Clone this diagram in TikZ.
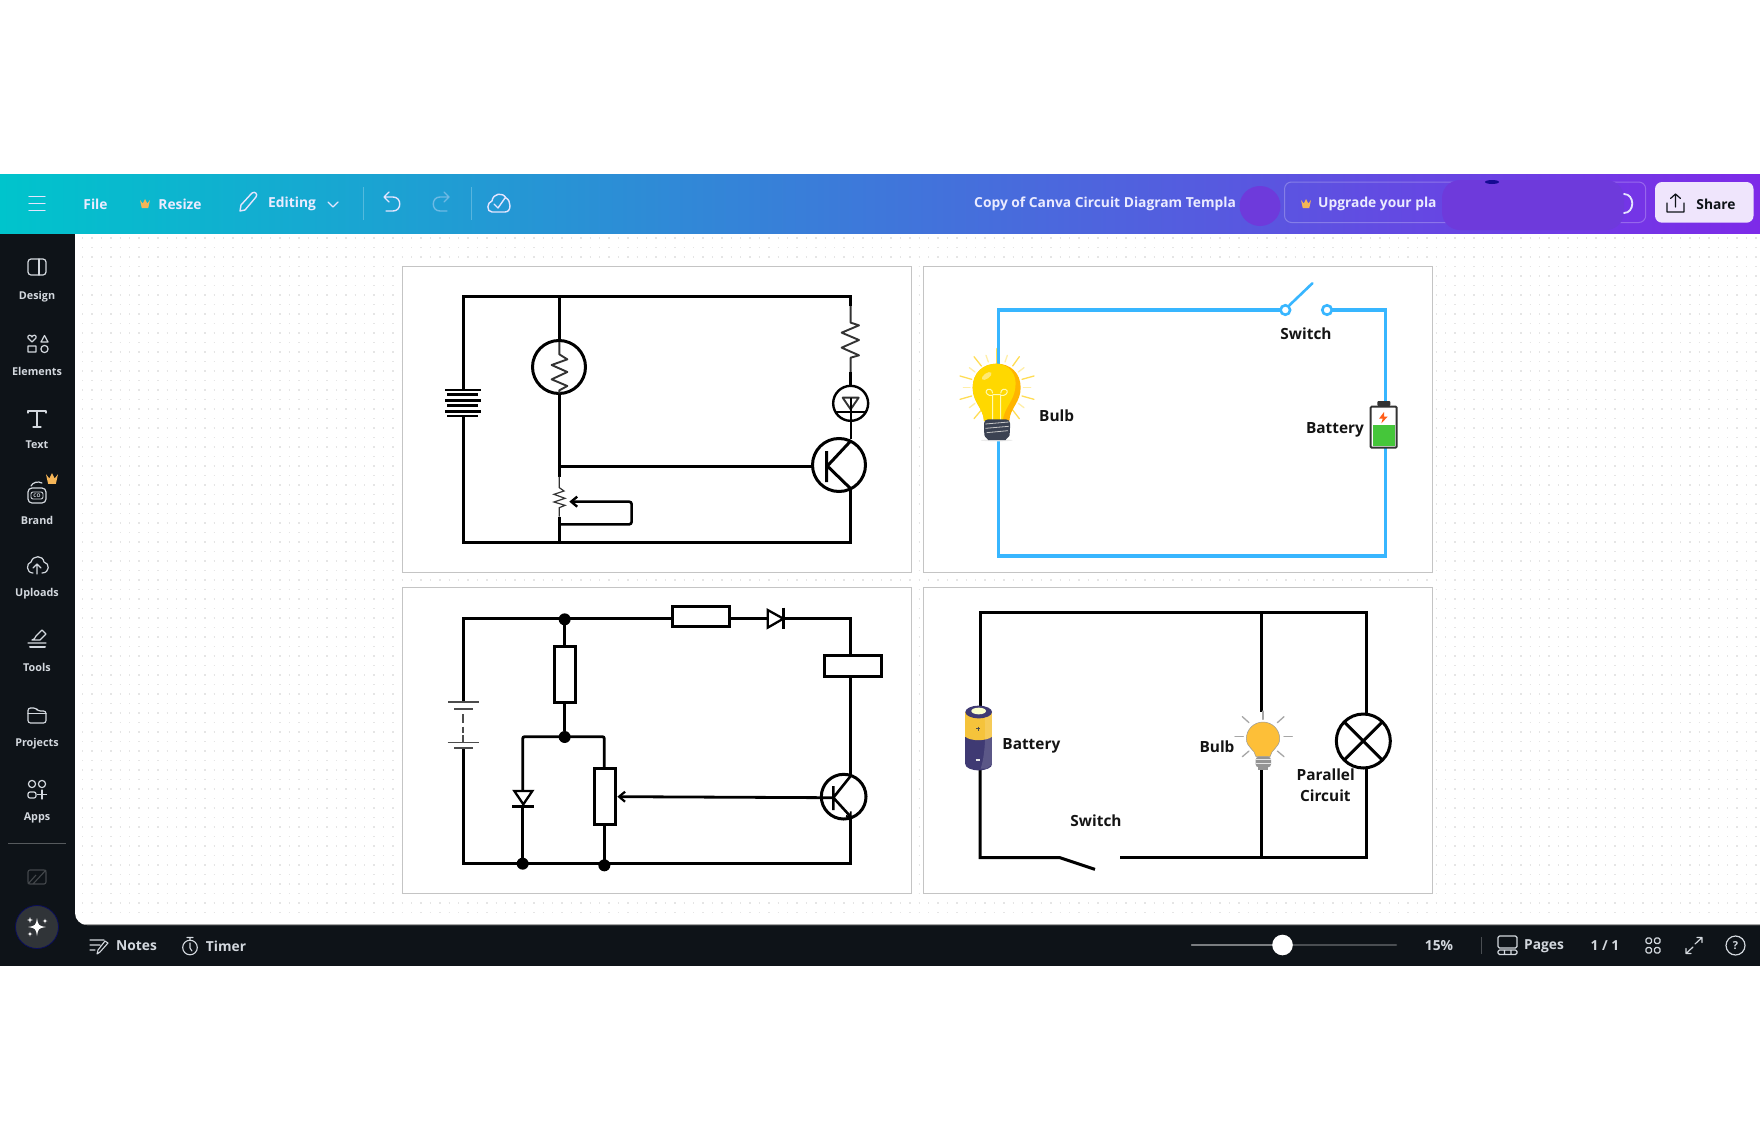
\documentclass[tikz,border=0pt]{standalone}
\usepackage{fontspec}
\setmainfont{Open Sans}
\usetikzlibrary{arrows.meta}
\definecolor{barL}{RGB}{0,196,204}
\definecolor{barR}{RGB}{125,42,232}
\definecolor{uidark}{HTML}{0E1318}
\definecolor{uitxt}{HTML}{D3D8DE}
\definecolor{panelline}{HTML}{C4C4C4}
\definecolor{cblue}{HTML}{38B6FF}
\definecolor{blob}{HTML}{6E3ADB}
\definecolor{crownc}{HTML}{F5B557}
\definecolor{bulbY}{HTML}{FFD800}
\definecolor{bulbO}{HTML}{FFB400}
\definecolor{rayY}{HTML}{FFDD55}
\definecolor{rayL}{HTML}{FFEFA8}
\definecolor{capdark}{HTML}{3B4252}
\definecolor{battG}{HTML}{45C63A}
\definecolor{cellY}{HTML}{F5C33B}
\definecolor{cellN}{HTML}{3F3A73}
\definecolor{bulb4}{HTML}{FDBF38}
\tikzset{
 z/.style 2 args={shift={(#1,#2)},x=.33333pt,y=-.33333pt},
 panel/.style={draw=panelline,line width=1pt,fill=white},
 wire/.style={line width=3pt,draw=black,line join=miter},
 wireb/.style={line width=2.8pt,draw=black,line join=miter},
 thinw/.style={line width=1.9pt,draw=black!80,line join=round},
 bwire/.style={line width=3.2pt,draw=cblue},
 comp/.style={draw=black,line width=3pt,fill=white,inner sep=0pt,outer sep=0pt},
 ring/.style={comp,circle},
 jdot/.style={circle,fill=black,inner sep=0pt,outer sep=0pt,minimum size=12pt},
 lab/.style={font=\fontsize{15.4}{19}\selectfont\bfseries,text=black!92,inner sep=0pt},
 side/.style={font=\fontsize{10.8}{13}\selectfont\bfseries,text=uitxt,inner sep=0pt},
 top/.style={font=\fontsize{13.8}{17}\selectfont\bfseries,text=white!92!blue,inner sep=0pt},
 bot/.style={font=\fontsize{13.8}{17}\selectfont\bfseries,text=uitxt,inner sep=0pt},
 ico/.style={line width=1.2pt,draw=uitxt,line join=round,line cap=round},
 tico/.style={line width=1.4pt,draw=white!90!blue,line join=round,line cap=round},
 ray/.style={line width=1.3pt,draw=#1,line cap=round},
}
\newcommand{\crownic}[3]{\fill[crownc] (#1-#3,#2-#3*.8) -- (#1-#3*.45,#2-#3*.1) -- (#1,#2-#3) -- (#1+#3*.45,#2-#3*.1) -- (#1+#3,#2-#3*.8) -- (#1+#3*.65,#2+#3*.8) -- (#1-#3*.65,#2+#3*.8) -- cycle;}
\newcommand{\sparkic}[3]{\fill[white] (#1,#2-#3) .. controls (#1+#3*.15,#2-#3*.15) .. (#1+#3,#2) .. controls (#1+#3*.15,#2+#3*.15) .. (#1,#2+#3) .. controls (#1-#3*.15,#2+#3*.15) .. (#1-#3,#2) .. controls (#1-#3*.15,#2-#3*.15) .. cycle;}
\begin{document}
\begin{tikzpicture}[x=1pt,y=-1pt]
\useasboundingbox (0,0) rectangle (1760,1140);
\fill[white] (0,0) rectangle (1760,1140);
% --- application frame
\fill[uidark] (0,233) rectangle (1760,966);
\fill[white] (1760,233) -- (75,233) [rounded corners=12pt] -- (75,925) [sharp corners] -- (1760,925) -- cycle;
\draw[black!35,line width=.8pt] (84,924.8) -- (1760,924.8);
\foreach \r in {0,...,71}{
 \draw[black!10,line width=1.3pt,dash pattern=on 1.3pt off 8.1pt] (82,238+9.5*\r) -- (1760,238+9.5*\r);
}
\shade[left color=barL,right color=barR] (0,174) rectangle (1760,233);
% --- top bar
\draw[tico] (29,196.5) -- (45,196.5) (29,203.5) -- (45,203.5) (29,210.5) -- (45,210.5);
\node[top] (tfile) at (95.5,204) {File};
\crownic{145}{204}{5}
\node[top] (tresize) at (180,204) {Resize};
\draw[tico] (240,211) -- (241,205) -- (252,193) .. controls (255,191) and (258,194) .. (256,197) -- (245,210) -- cycle;
\node[top] (tedit) at (292,204) {Editing};
\draw[tico] (328,202) -- (333,207) -- (338,202);
\draw[white,opacity=.25,line width=.8pt] (363,187) -- (363,220) (471,187) -- (471,220);
\draw[tico] (385,197) -- (393,197) .. controls (402,197) and (402,211) .. (393,211) -- (386,211) (389,192) -- (384,197) -- (389,202);
\draw[tico,opacity=.4] (448,197) -- (440,197) .. controls (431,197) and (431,211) .. (440,211) -- (447,211) (444,192) -- (449,197) -- (444,202);
\draw[tico] (492,212) .. controls (486,212) and (487,202) .. (492,201) .. controls (493,193) and (503,192) .. (506,198) .. controls (511,200) and (512,212) .. (505,212) -- cycle (494,204) -- (498,208) -- (505,198);
\node[top,anchor=west] (ttitle) at (974,204) {Copy of Canva Circuit Diagram Templa};
\fill[blob] (1260,206) ellipse [x radius=20.5,y radius=20];
\draw[white,opacity=.25,line width=1pt,rounded corners=7pt] (1284.5,182) rectangle (1645.7,222.5);
\crownic{1306}{204}{5}
\node[top,anchor=west] (tupg) at (1318,204) {Upgrade your pla};
\fill[blob,rounded corners=18pt] (1442,180) rectangle (1624,230);
\fill[blue!50!black,opacity=.8] (1492,182) ellipse [x radius=7,y radius=2];
\draw[tico,line width=1.8pt] (1624,194) .. controls (1635,194) and (1635,213) .. (1624,213);
\fill[white!88!barR,rounded corners=7pt] (1655,182) rectangle (1753.5,222.7);
\draw[line width=1.2pt,draw=uidark,line join=round,line cap=round] (1667,203) -- (1667,212) -- (1684,212) -- (1684,203) (1675.5,207) -- (1675.5,194) (1670.5,198.5) -- (1675.5,194) -- (1680.5,198.5);
\node[top,text=uidark] (tshare) at (1716,204) {Share};
% --- side bar
\draw[ico,rounded corners=3pt] (28,259) rectangle (46,275);
\draw[ico] (39,259) -- (39,275);
\node[side] (sdesign) at (37,297) {Design};
\draw[ico] (32,342) -- (28,338) .. controls (27,335) and (31,334) .. (32,337) .. controls (33,334) and (37,335) .. (36,338) -- cycle (41,342) -- (44.5,335.5) -- (48,342) -- cycle (28,346) rectangle (36,352);
\draw[ico] (44.5,349) circle [radius=3.6];
\node[side] (selem) at (37,371) {Elements};
\draw[ico] (28,413) -- (28,411) -- (46,411) -- (46,413) (37,411) -- (37,427) (33,427) -- (41,427);
\node[side] (stext) at (37,445) {Text};
\draw[ico,rounded corners=4pt] (28,488) rectangle (46,503);
\draw[ico,rounded corners=2pt,line width=.9pt] (31,492) rectangle (43,499);
\draw[ico] (31,486) .. controls (33,482) and (38,481) .. (42,483);
\node[font=\fontsize{5}{6}\selectfont\bfseries,text=uitxt,inner sep=0pt] (sco) at (37,495.5) {CO};
\crownic{52}{479}{6}
\node[side] (sbrand) at (37,520) {Brand};
\draw[ico] (33,573) .. controls (26,573) and (26,563) .. (31,562) .. controls (33,555) and (43,555) .. (44,562) .. controls (50,563) and (50,573) .. (42,573) (37,574) -- (37,564) (33,568) -- (37,564) -- (41,568);
\node[side] (supl) at (37,593.5) {Uploads};
\draw[ico] (28,643) -- (46,643) (32,640) .. controls (34,640) and (35,638) .. (36,636) -- (42,630) -- (46,634) -- (40,640) -- (32,640);
\draw[ico,line width=2pt] (30,646.5) -- (45,646.5);
\node[side] (stools) at (37,667.5) {Tools};
\draw[ico,rounded corners=2.5pt] (28,708) -- (36,708) -- (38,711) -- (46,711) -- (46,723) -- (28,723) -- cycle;
\draw[ico] (28,713.5) -- (46,713.5);
\node[side] (sproj) at (37,744) {Projects};
\draw[ico] (32,784) circle [radius=3.6] (42,784) circle [radius=3.6];
\draw[ico,rounded corners=2pt] (28,792) rectangle (36,798);
\draw[ico] (42,790) -- (42,799) (37.5,794.5) -- (46.5,794.5);
\node[side] (sapps) at (37,818) {Apps};
\draw[white!30!uidark,line width=.8pt] (8,843) -- (66,843);
\draw[line width=1.1pt,draw=white!22!uidark,rounded corners=2pt] (28,870) rectangle (46,884) (28,884) -- (36,875) (46,870) -- (33,884);
\fill[white!14!uidark,draw=blue!30!uidark,line width=.8pt] (37,927) circle [radius=21.5];
\sparkic{37}{927}{9}
\sparkic{30}{920}{3}
\sparkic{45}{921}{2.5}
\sparkic{30}{934}{2.5}
% --- bottom bar
\draw[ico,line width=1.1pt] (90,940) -- (104,940) (90,945) -- (100,945) (90,950) -- (95,950) (97,954) -- (98,950) -- (105,941) -- (108,943) -- (100,952) -- cycle;
\node[bot] (bnotes) at (136.5,946) {Notes};
\draw[ico,line width=1.1pt] (190,947.5) circle [radius=7.3] (187,937.5) -- (193,937.5) (190,940) -- (190,937.5) (190,943) -- (190,948) -- (192,951);
\node[bot] (btimer) at (226,946) {Timer};
\draw[white!25!uidark,line width=2.5pt,line cap=round] (1192,945) -- (1396,945);
\draw[white!45!uidark,line width=2.5pt,line cap=round] (1192,945) -- (1282,945);
\fill[white] (1282.5,945) circle [radius=10.3];
\node[bot] (bzoom) at (1439,946) {15\%};
\draw[white!25!uidark,line width=1pt] (1481,937) -- (1481,954);
\draw[ico,rounded corners=1.5pt] (1498,936) rectangle (1517,948) (1498,950) rectangle (1517,954.5) (1504.5,950) -- (1504.5,954.5) (1511,950) -- (1511,954.5);
\node[bot] (bpages) at (1544,946) {Pages};
\node[bot] (bcount) at (1605,946) {1 / 1};
\draw[ico,rounded corners=1.5pt] (1646,938) rectangle (1651.5,943.5) (1654.5,938) rectangle (1660,943.5) (1646,947.5) rectangle (1651.5,953) (1654.5,947.5) rectangle (1660,953);
\draw[ico] (1695,944) -- (1702,937.5) (1697,937.5) -- (1702,937.5) -- (1702,942.5) (1693,947) -- (1686,953.5) (1691,953.5) -- (1686,953.5) -- (1686,948.5);
\draw[ico] (1735.5,945.5) circle [radius=9.5];
\node[font=\fontsize{11}{13}\selectfont\bfseries,text=uitxt,inner sep=0pt] (bhelp) at (1735.5,945.5) {?};
% --- panels
\draw[panel] (402.7,266) rectangle (911.7,572.5);
\draw[panel] (923.3,266) rectangle (1432.7,572.5);
\draw[panel] (402.7,587.2) rectangle (911.7,893.5);
\draw[panel] (923.3,587.2) rectangle (1432.7,893.5);
% --- circuit 1
\begin{scope}[z={400}{266}]
\coordinate (a1) at (190,92); \coordinate (a2) at (478,92); \coordinate (a3) at (1352,92);
\coordinate (a4) at (190,830); \coordinate (a5) at (478,830); \coordinate (a6) at (1352,830);
\coordinate (a7) at (190,372); \coordinate (a8) at (190,450); \coordinate (qb) at (1237,601);
\node[ring,minimum size=53pt] (th) at (477,303) {};
\node[ring,minimum size=35pt,line width=2.4pt] (led) at (1352,412) {};
\node[ring,minimum size=53pt] (q1) at (1317,597) {};
\draw[wire] (a7) -- (a1) -- (a3) -- (1352,120);
\draw[wire] (a8) -- (a4) -- (a6) -- (1352,668);
\draw[wire] (a2) -- (478,225) (478,382) -- (478,632) (478,752) -- (a5);
\draw[wire] (478,601) -- (qb);
\draw[line width=2.6pt] (135,372) -- (243,372) (135,404) -- (243,404) (135,436) -- (243,436);
\draw[line width=2.6pt] (142,385) -- (235,385) (142,418) -- (235,418) (142,450) -- (235,450);
\draw[thinw] (478,228) -- (478,265) -- (502,280) -- (455,297) -- (502,318) -- (455,340) -- (502,360) -- (478,373) -- (478,382);
\draw[thinw] (1352,120) -- (1352,170) -- (1377,178) -- (1325,200) -- (1377,222) -- (1325,245) -- (1377,268) -- (1352,275) -- (1352,318);
\draw[wire,line width=2.4pt] (1352,318) -- (led.north);
\draw[thinw] (1328,395) -- (1376,395) -- (1352,430) -- cycle;
\draw[line width=2.2pt] (1352,395) -- (1352,520) (1305,438) -- (1400,438);
\draw[wire] (1280,555) -- (1280,648) (1352,525) -- (1282,600) -- (1352,668);
\draw[line width=1.2pt,draw=black!80] (478,632) -- (478,665) -- (492,675) -- (462,685) -- (495,697) -- (462,708) -- (495,718) -- (478,725) -- (478,752);
\draw[wire,rounded corners=2.5pt,line width=2.6pt,-{Straight Barb[length=6pt,width=10pt,line width=2.4pt]}] (478,775) -- (695,775) -- (695,707) -- (508,707);
\end{scope}
% --- circuit 2
\begin{scope}[z={920}{266}]
\coordinate (b1) at (236,132); \coordinate (b2) at (1396,132); \coordinate (b3) at (1396,870); \coordinate (b4) at (236,870);
\node[draw=cblue,line width=2.6pt,fill=white,circle,inner sep=0pt,outer sep=0pt,minimum size=9.5pt] (sw1) at (1096,132) {};
\node[draw=cblue,line width=2.6pt,fill=white,circle,inner sep=0pt,outer sep=0pt,minimum size=9.5pt] (sw2) at (1221,132) {};
\draw[bwire] (236,300) -- (b1) -- (sw1);
\draw[bwire] (sw2) -- (b2) -- (1396,410);
\draw[bwire] (1396,540) -- (b3) -- (b4) -- (236,515);
\draw[bwire,line width=2.6pt,line cap=round] (1108,118) -- (1177,52);
% bulb rays
\foreach \a/\b/\c/\d in {162/272/184/300,298/272/278/300,120/330/155/340,342/330/306/340,120/400/155/390,342/400/306/390,162/458/184/432,298/458/278/432}
 \draw[ray=rayY] (\a,\b) -- (\c,\d);
\foreach \a/\b/\c/\d in {198/268/205/288,262/268/255/288,148/305/165/318,312/305/295/318,130/365/150/365,332/365/310/365,148/425/165/412,312/425/295/412}
 \draw[ray=rayL] (\a,\b) -- (\c,\d);
\draw[ray=rayY,line width=1.5pt] (230,248) -- (230,292);
\fill[bulbO] (192,465) .. controls (190,425) and (158,410) .. (158,365) .. controls (158,320) and (190,293) .. (230,293) .. controls (270,293) and (302,320) .. (302,365) .. controls (302,410) and (270,425) .. (268,465) -- cycle;
\fill[bulbY] (192,465) .. controls (190,425) and (158,410) .. (158,365) .. controls (158,320) and (190,293) .. (230,293) .. controls (268,295) and (292,325) .. (286,365) .. controls (282,405) and (252,425) .. (248,465) -- cycle;
\fill[white,opacity=.45,rotate around={35:(200,330)}] (200,330) ellipse [x radius=17,y radius=8];
\draw[white!70!yellow,line width=1pt] (218,462) -- (218,388) .. controls (205,392) and (195,380) .. (199,374) .. controls (203,366) and (218,368) .. (218,382) (242,462) -- (242,388) .. controls (255,392) and (265,380) .. (261,374) .. controls (257,366) and (242,368) .. (242,382) (218,386) -- (242,386);
\fill[black!8] (230,523) ellipse [x radius=48,y radius=3];
\fill[capdark,rounded corners=4pt] (192,460) -- (270,460) -- (270,497) .. controls (268,512) and (255,522) .. (245,522) -- (216,522) .. controls (206,522) and (194,512) .. (192,497) -- cycle;
\draw[white!55!gray,line width=.8pt] (196,474) -- (266,468) (196,487) -- (266,481) (200,500) -- (264,494);
% battery
\draw[line width=1.9pt,draw=black!80,fill=white,rounded corners=1pt] (1352,422) rectangle (1430,545);
\fill[black!80,rounded corners=1pt] (1372,405) rectangle (1411,420);
\fill[battG] (1358,478) rectangle (1424,540);
\fill[orange!60!red!90!white] (1392,438) -- (1377,458) -- (1388,458) -- (1384,472) -- (1403,452) -- (1392,452) -- cycle;
\node[lab] (l1) at (410,449) {Bulb};
\node[lab] (l2) at (1158,202) {Switch};
\node[lab] (l3) at (1245,492) {Battery};
\end{scope}
% --- circuit 3
\begin{scope}[z={400}{586}]
\coordinate (c1) at (190,97); \coordinate (c2) at (1352,97); \coordinate (c3) at (1352,833); \coordinate (c4) at (190,833);
\coordinate (c5) at (190,348); \coordinate (c6) at (190,485); \coordinate (c7) at (368,452); \coordinate (c8) at (613,452);
\node[jdot] (j1) at (494,100) {};
\node[jdot] (j2) at (494,453) {};
\node[jdot] (j3) at (368,833) {};
\node[jdot] (j4) at (613,838) {};
\node[comp,minimum width=56.7pt,minimum height=20.3pt] (rh) at (903,92) {};
\node[comp,minimum width=56.7pt,minimum height=21pt] (relay) at (1360,241) {};
\node[comp,minimum width=21.3pt,minimum height=56pt] (rv) at (494,264) {};
\node[comp,minimum width=21.3pt,minimum height=56.3pt] (pot) at (614,631) {};
\node[ring,minimum size=44.7pt] (q2) at (1331,632) {};
\coordinate (bd) at (1103,97); \coordinate (bk) at (1150,97);
\coordinate (ld) at (368,615); \coordinate (lk) at (368,661);
\draw[wireb] (c5) -- (c1) -- (818,97) (988,97) -- (bd) (bk) -- (c2) -- (1352,210);
\draw[wireb] (1352,273) -- (1352,570) (1352,692) -- (c3) -- (c4) -- (c6);
\draw[wireb] (j1) -- (rv) -- (j2);
\draw[wireb,rounded corners=2pt] (ld) -- (c7) -- (c8) -- (613,547);
\draw[wireb] (lk) -- (j3) (613,716) -- (613,838);
\draw[line width=2.3pt,fill=white] (1103,72) -- (1103,125) -- (1150,98) -- cycle;
\draw[line width=2.8pt] (1150,65) -- (1150,130);
\draw[line width=2.3pt,fill=white] (343,615) -- (397,615) -- (370,655) -- cycle;
\draw[line width=2.8pt] (337,661) -- (403,661);
\draw[line width=1.6pt,draw=black!70] (145,348) -- (238,348) (143,470) -- (238,470);
\draw[line width=2.2pt,draw=black!70] (163,368) -- (220,368) (163,485) -- (220,485);
\draw[line width=2pt,draw=black!70] (190,385) -- (190,412) (190,422) -- (190,440) (190,448) -- (190,470);
\draw[wireb,-{Straight Barb[length=6pt,width=10pt,line width=2.2pt]}] (1300,635) -- (1265,635) -- (652,632);
\draw[line width=2.6pt] (1300,600) -- (1300,672) (1352,570) -- (1300,635) -- (1352,692);
\draw[line width=1.8pt] (1338,690) -- (1352,692) -- (1352,676);
\end{scope}
% --- circuit 4
\begin{scope}[z={920}{586}]
\coordinate (d1) at (180,78); \coordinate (d2) at (1340,78); \coordinate (d3) at (1340,815); \coordinate (d4) at (180,815);
\coordinate (d5) at (420,815); \coordinate (d6) at (525,850); \coordinate (d7) at (600,815);
\coordinate (d8) at (1025,78); \coordinate (d9) at (1025,815);
\node[ring,minimum size=54pt] (lamp) at (1330,465) {};
\draw[wire] (180,370) -- (d1) -- (d2) -- (1340,385);
\draw[wire] (180,545) -- (d4) -- (d5) -- (d6);
\draw[wire] (d7) -- (d3) -- (1340,545);
\draw[wire] (d8) -- (1025,378) (1025,550) -- (d9);
\draw[wire] (1274,409) -- (1386,521) (1386,409) -- (1274,521);
% battery
\fill[cellN] (136,378) rectangle (216,535);
\fill[cellN] (176,535) ellipse [x radius=40,y radius=18];
\fill[cellY] (136,378) rectangle (216,452);
\fill[cellY] (136,452) .. controls (150,466) and (200,466) .. (216,452) -- cycle;
\fill[white,opacity=.15] (192,378) -- (216,378) -- (216,535) -- (200,548) -- (182,548) .. controls (198,500) and (198,420) .. (192,378) -- cycle;
\fill[cellN] (176,378) ellipse [x radius=40,y radius=19];
\fill[green!10!yellow!20!white] (176,375) ellipse [x radius=22,y radius=10];
\draw[black!70,line width=.9pt] (168,428) -- (180,428) (174,422) -- (174,434);
\draw[white!80!gray,line width=1.2pt] (167,522) -- (181,522);
% bulb
\foreach \a/\b/\c/\d in {1029/375/1029/400,945/452/970/452,1092/452/1117/452,967/392/987/410,1092/392/1072/410,967/512/987/495,1092/512/1072/495}
 \draw[ray=black!35] (\a,\b) -- (\c,\d);
\fill[bulb4,draw=black!40,line width=.5pt] (1008,512) .. controls (1005,490) and (979,485) .. (979,458) .. controls (979,430) and (1002,408) .. (1029,408) .. controls (1056,408) and (1079,430) .. (1079,458) .. controls (1079,485) and (1053,490) .. (1050,512) -- cycle;
\fill[black!42,rounded corners=3pt] (1007,512) rectangle (1053,544);
\fill[black!42] (1015,544) rectangle (1045,553);
\draw[white!80!gray,line width=.8pt] (1007,521) -- (1053,521) (1007,532) -- (1053,532);
\node[lab] (l4) at (334,481) {Battery};
\node[lab] (l5) at (891,483) {Bulb};
\node[lab] (l6) at (1217,565) {Parallel};
\node[lab] (l7) at (1216,630) {Circuit};
\node[lab] (l8) at (528,703) {Switch};
\end{scope}
\end{tikzpicture}
\end{document}
